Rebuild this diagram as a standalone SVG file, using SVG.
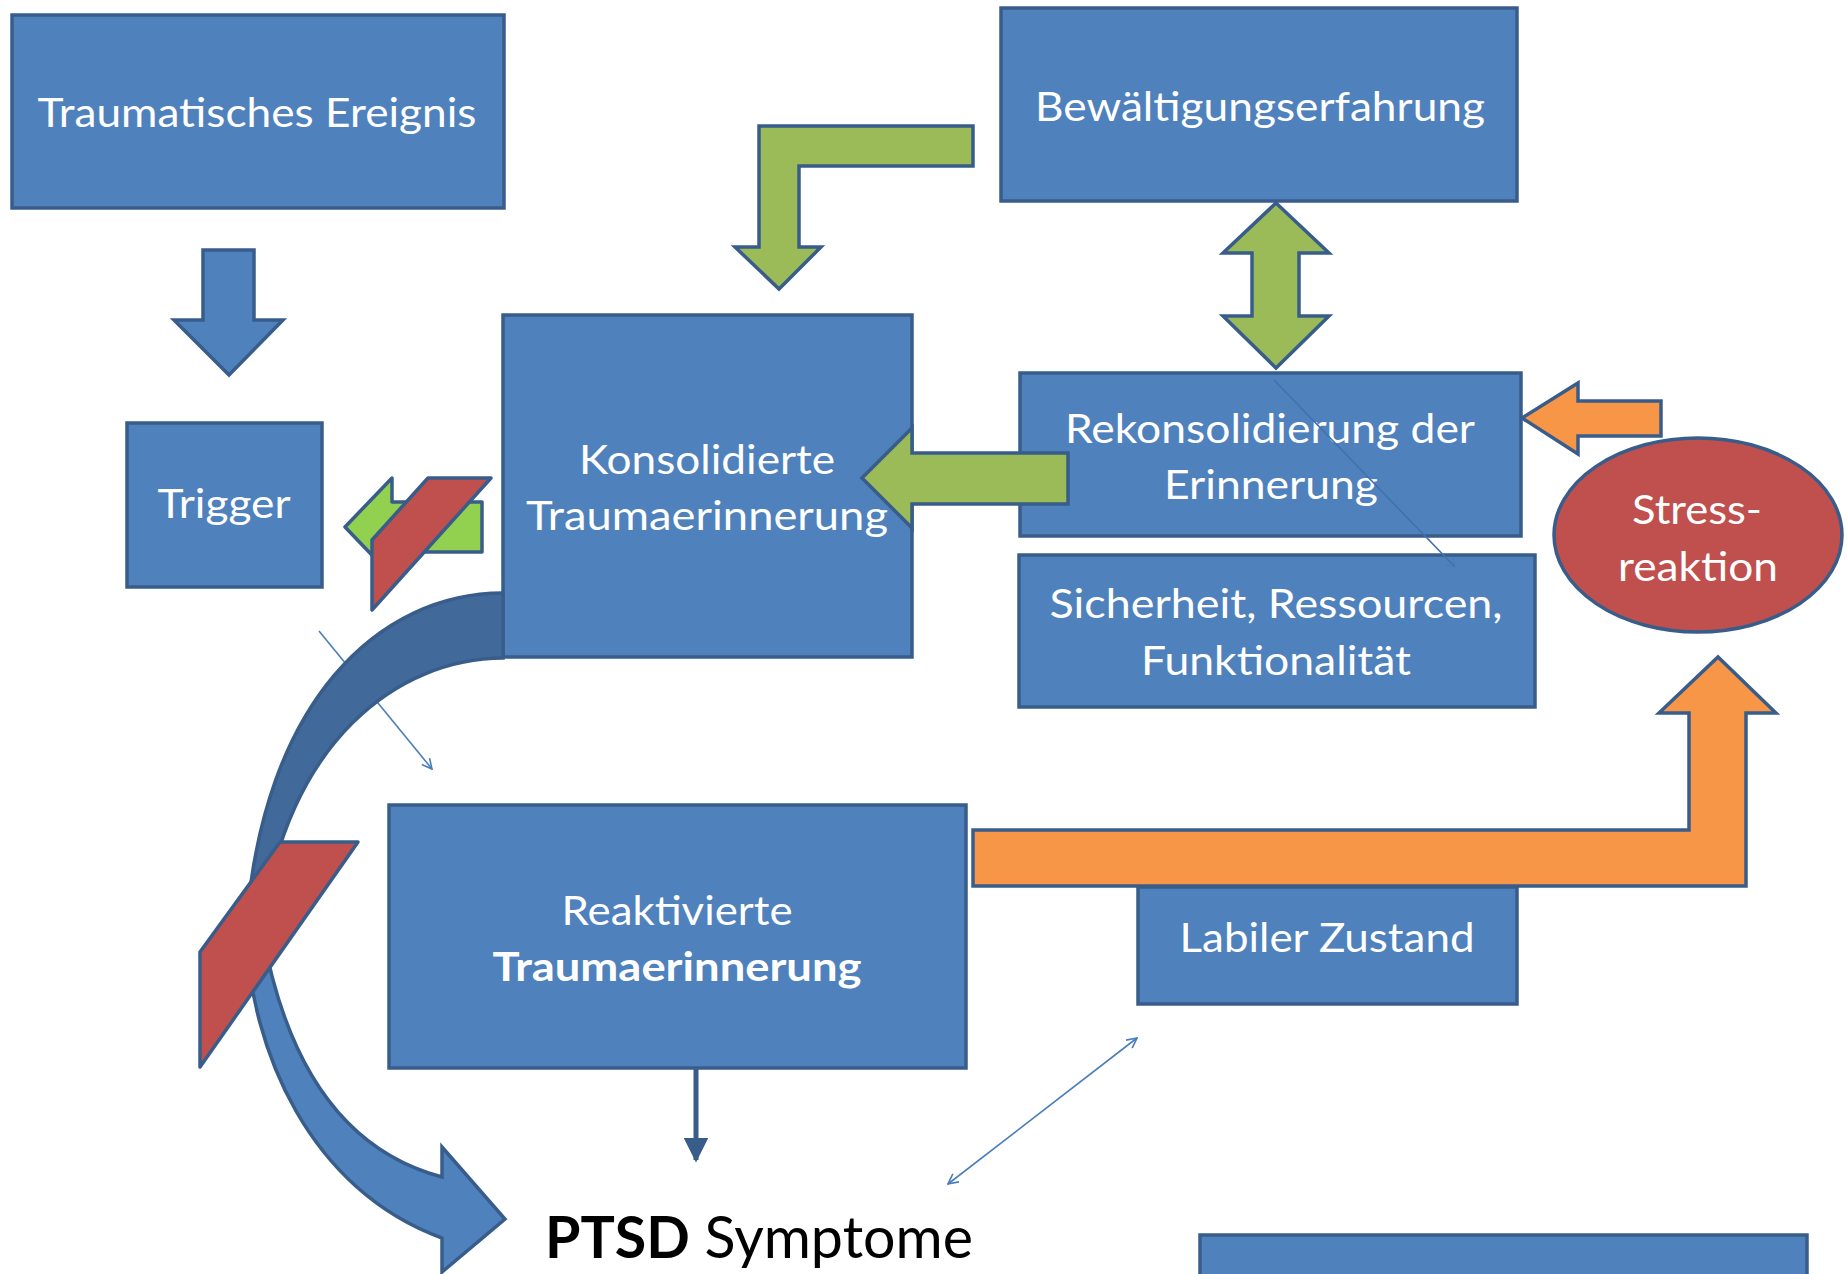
<svg xmlns="http://www.w3.org/2000/svg" width="1847" height="1274" viewBox="0 0 1847 1274">
<defs>
<style>
.box{fill:#4F81BD;stroke:#385D8A;stroke-width:3.5}
.t{font-family:Lato,"Open Sans","Liberation Sans",sans-serif;font-size:40px;fill:#FFFFFF;text-anchor:middle}
.b{font-weight:bold}
.g{fill:#9BBB59;stroke:#385D8A;stroke-width:3.5;stroke-linejoin:miter}
.lg{fill:#92D050;stroke:#385D8A;stroke-width:3.5;stroke-linejoin:round}
.o{fill:#F79646;stroke:#385D8A;stroke-width:3.5}
.r{fill:#C0504D;stroke:#385D8A;stroke-width:3.5;stroke-linejoin:round}
.bl{fill:#4F81BD;stroke:#385D8A;stroke-width:3.5}
.dk{fill:#41699A;stroke:#385D8A;stroke-width:3.5}
.thin{fill:none;stroke:#4A7EBB;stroke-width:1.6}
</style>
<marker id="open" viewBox="0 0 12 12" refX="11" refY="6" markerWidth="12" markerHeight="12" markerUnits="userSpaceOnUse" orient="auto-start-reverse">
<path d="M1,1 L11,6 L1,11" fill="none" stroke="#4A7EBB" stroke-width="1.6"/>
</marker>
<marker id="solid" viewBox="0 0 10 10" refX="9" refY="5" markerWidth="5" markerHeight="5" orient="auto">
<path d="M0,0 L10,5 L0,10 Z" fill="#385D8A"/>
</marker>
</defs>
<rect width="1847" height="1274" fill="#FFFFFF"/>

<g id="nodes">
<g id="traumatisches-ereignis">
<rect class="box" x="12" y="15" width="492" height="193"/>
<text class="t" x="257" y="127" font-size="41" textLength="439" lengthAdjust="spacingAndGlyphs">Traumatisches Ereignis</text>
</g>
<g id="trigger">
<rect class="box" x="127" y="423" width="195" height="164"/>
<text class="t" x="224" y="518" textLength="133" lengthAdjust="spacingAndGlyphs">Trigger</text>
</g>
<g id="bewaeltigungserfahrung">
<rect class="box" x="1001" y="8" width="516" height="193"/>
<text class="t" x="1260" y="121" textLength="450" lengthAdjust="spacingAndGlyphs">Bewältigungserfahrung</text>
</g>
<g id="konsolidierte">
<rect class="box" x="503" y="315" width="409" height="342"/>
<text class="t" x="707" y="474" textLength="256" lengthAdjust="spacingAndGlyphs">Konsolidierte</text>
<text class="t" x="707" y="530" textLength="362" lengthAdjust="spacingAndGlyphs">Traumaerinnerung</text>
</g>
<g id="rekonsolidierung">
<rect class="box" x="1020" y="373" width="501" height="163"/>
<text class="t" x="1270" y="443" textLength="410" lengthAdjust="spacingAndGlyphs">Rekonsolidierung der</text>
<text class="t" x="1271" y="499" textLength="214" lengthAdjust="spacingAndGlyphs">Erinnerung</text>
</g>
<g id="sicherheit">
<rect class="box" x="1019" y="555" width="516" height="152"/>
<text class="t" x="1276" y="618" textLength="453" lengthAdjust="spacingAndGlyphs">Sicherheit, Ressourcen,</text>
<text class="t" x="1276" y="675" textLength="270" lengthAdjust="spacingAndGlyphs">Funktionalität</text>
</g>
<g id="stressreaktion">
<ellipse cx="1698" cy="535" rx="144" ry="97" fill="#C0504D" stroke="#385D8A" stroke-width="3.5"/>
<text class="t" x="1697" y="524" textLength="130" lengthAdjust="spacingAndGlyphs">Stress-</text>
<text class="t" x="1698" y="581" textLength="160" lengthAdjust="spacingAndGlyphs">reaktion</text>
</g>
<g id="reaktivierte">
<rect class="box" x="389" y="805" width="577" height="263"/>
<text class="t" x="677" y="925" textLength="231" lengthAdjust="spacingAndGlyphs">Reaktivierte</text>
<text class="t b" x="677" y="981" textLength="369" lengthAdjust="spacingAndGlyphs">Traumaerinnerung</text>
</g>
<g id="labiler-zustand">
<rect class="box" x="1138" y="887" width="379" height="117"/>
<text class="t" x="1327" y="952" textLength="295" lengthAdjust="spacingAndGlyphs">Labiler Zustand</text>
</g>
<g id="ptsd-symptome">
<text x="545" y="1258" font-family="Lato,'Open Sans','Liberation Sans',sans-serif" font-size="58" fill="#000000" textLength="428" lengthAdjust="spacingAndGlyphs"><tspan font-weight="bold">PTSD</tspan> Symptome</text>
</g>
<g id="bottom-box">
<rect class="box" x="1200" y="1235" width="607" height="60"/>
</g>
</g>

<g id="connectors">
<line class="thin" x1="319" y1="631" x2="432" y2="769" marker-end="url(#open)"/>
<path id="curve-back" class="dk" d="M503,593 C380,593 262,700 246,930 L262,930 C285,740 400,658 503,658 Z"/>
<path id="curve-front" class="bl" d="M246,930 C250,1050 310,1190 442,1238 L442,1272 L505,1219 L442,1147 L442,1177 C340,1150 285,1060 262,930 Z"/>
<polygon class="r" points="280,842 358,842 200,1067 200,952"/>
<path class="lg" d="M482,502 V552 H392 V576 L345,527 L392,478 V502 Z"/>
<polygon class="r" points="428,478 491,478 372,610 372,540"/>
<path class="bl" d="M203,250 H254 V320 H283 L229,375 L174,320 H203 Z"/>
<path class="g" d="M973,126 V166 H799 V247 H821 L779,289 L735,247 H759 V126 Z"/>
<path class="g" d="M1276,203 L1329,253 H1299 V316 H1329 L1276,368 L1223,316 H1252 V253 H1223 Z"/>
<path class="g" d="M1068,453 V504 H912 V528 L862,478 L912,428 V453 Z"/>
<path class="o" d="M1661,401 V436 H1578 V454 L1522,418 L1578,383 V401 Z"/>
<path class="o" d="M973,830 H1689 V713 H1659 L1718,657 L1776,713 H1746 V886 H973 Z"/>
<line x1="1274" y1="380" x2="1456" y2="568" stroke="#3F71AE" stroke-width="1.6" marker-end="url(#open)"/>
<line x1="696" y1="1068" x2="696" y2="1160" stroke="#385D8A" stroke-width="5" marker-end="url(#solid)"/>
<line class="thin" x1="948" y1="1184" x2="1137" y2="1038" marker-start="url(#open)" marker-end="url(#open)"/>
</g>
</svg>
